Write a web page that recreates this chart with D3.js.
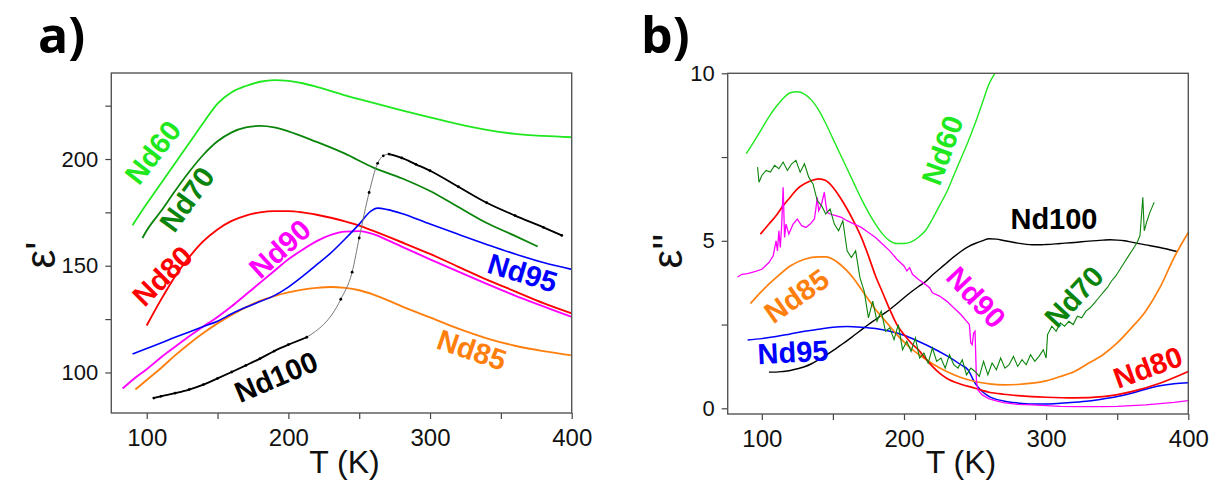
<!DOCTYPE html>
<html><head><meta charset="utf-8">
<script src="https://cdn.jsdelivr.net/npm/d3@7"></script>
<style>
html,body{margin:0;padding:0;background:#fff;}
svg{display:block;}
</style></head>
<body>
<svg id="chart" width="1216" height="482"></svg>
<script>
// ---------- Panel a: eps' ----------
const a60_T = [90,100,110,120,130,140,150,160,170,180,190,200,210,220,240,260,280,300,320,340,360,380,400];
const a60_E = [169,179,188.5,198,207.5,217,226,231.3,234.2,236.2,237,236.6,235.5,233.8,229.8,226.3,222.8,219.5,216.4,213.7,211.8,210.8,210.2];
const a70_T = [97,100,110,120,130,140,150,160,170,180,190,200,220,240,260,280,300,320,340,360,376];
const a70_E = [163,166.5,175.5,185,194,202,208.3,212.5,214.8,215.5,214.8,213,208,202.5,196,191,185,177.5,170,164,159];
const a80_T = [100,110,120,130,140,150,160,170,180,190,200,210,220,230,240,250,260,280,300,320,340,360,380,400];
const a80_E = [122,134,145,154,161.5,167,171,173.5,175,175.6,175.6,175,173.9,172.5,170.8,168.8,166.3,161,155.5,149.5,143.5,138,132.5,127.7];
const a85_T = [92,100,110,120,130,140,150,160,170,180,190,200,210,220,230,240,250,260,280,300,320,340,360,380,400];
const a85_E = [92,96.5,102,108,113.5,118.5,123,127,130.5,133.5,135.8,137.5,138.8,139.6,140,139.6,138.5,136.5,131,125.8,120.5,116,112.5,110,108];
const a90_T = [83,90,100,110,120,130,140,150,160,170,180,190,200,210,220,230,240,250,260,270,280,300,320,340,360,380,400];
const a90_E = [92.5,96.5,101.5,107,112,117,121.5,126,131,136.5,142,147.5,153,157.5,161.5,164.5,166,166.2,164.8,162,159,153,147.2,141.5,136,131,126];
const a95_T = [90,100,110,120,130,140,150,160,170,180,190,200,210,220,230,240,250,258,263,270,280,300,320,340,360,380,400];
const a95_E = [108.6,111.2,113.8,116.5,119,121.5,124,127.5,130.5,133.2,136,140,145,150.5,156,162.5,169.5,175.5,177,176.3,174.5,169.5,164.7,160,155.5,151.5,148.3];
const a100_T = [105,110,120,130,140,150,160,170,180,190,200,213,237,245,250,257,263,267,271,280,290,300,320,340,360,380,393];
const a100_E = [88,88.8,90.3,92,94.3,97.2,100.2,103.3,106.5,110,113,116.5,134.3,147,163,184.3,198,201.5,202.3,200.5,197.5,194.5,187,179.5,173.5,168,164.2];

// ---------- Panel b: eps'' ----------
const b60_T = [89,95,100,105,110,115,120,125,130,135,140,145,150,155,160,165,170,175,180,185,190,195,200,205,210,215,220,225,230,235,240,245,250,255,260,264];
const b60_E = [7.6,8.0,8.35,8.7,9.0,9.25,9.42,9.45,9.38,9.2,8.9,8.5,8.05,7.6,7.15,6.7,6.25,5.85,5.5,5.2,5.0,4.92,4.92,4.97,5.1,5.3,5.65,6.05,6.45,6.95,7.45,7.95,8.5,9.1,9.7,10.0];
const b70_T = [97,98,100,103,106,109,112,115,118,121,124,127,130,133,136,139,142,145,148,151,154,157,160,163,166,169,172,175,178,181,184,187,190,193,196,199,202,205,208,211,214,217,220,223,226,229,232,235,238,241,244,247,250,253,256,259,262,265,268,271,274,277,280,283,286,289,292,295,298,300,301,304,307,310,313,316,319,322,325,328,331,334,337,340,343,346,349,352,355,358,361,364,366,368,369,371,373,375,376];
const b70_E = [7.2,6.75,6.95,7.1,7.05,7.25,7.15,7.35,7.1,7.3,7.4,7.05,7.3,6.9,6.7,6.2,6.05,5.8,5.95,5.5,5.3,5.6,4.7,4.5,4.7,3.9,3.5,2.7,3.2,2.6,2.9,2.3,2.4,2.05,2.5,1.75,2.0,1.7,2.1,1.5,1.65,1.35,1.8,1.4,1.5,1.2,1.6,1.3,1.2,1.45,1.0,1.2,1.1,0.95,1.4,1.0,1.35,1.15,1.5,1.2,1.3,1.55,1.25,1.45,1.3,1.6,1.4,1.55,1.75,1.5,2.2,2.45,2.3,2.55,2.45,2.6,2.5,2.75,2.7,2.9,3.0,3.15,3.3,3.45,3.6,3.8,3.95,4.15,4.35,4.55,4.75,4.95,5.15,6.3,5.3,5.6,5.85,6.05,6.15];
const b80_T = [99,105,110,115,120,125,130,135,140,145,150,155,160,165,170,175,180,185,190,195,200,205,210,215,220,225,230,240,250,260,270,280,290,300,320,340,360,380,400];
const b80_E = [5.2,5.5,5.75,6.05,6.3,6.55,6.7,6.8,6.85,6.8,6.6,6.3,5.95,5.55,5.1,4.55,3.95,3.45,2.95,2.5,2.2,1.95,1.75,1.5,1.25,1.05,0.9,0.72,0.6,0.48,0.42,0.38,0.35,0.33,0.31,0.35,0.5,0.75,1.1];
const b85_T = [92,100,110,120,130,140,145,150,155,160,165,170,175,180,185,190,195,200,205,210,220,230,240,250,260,270,280,290,300,310,320,330,340,350,360,370,380,390,400];
const b85_E = [3.13,3.5,3.9,4.25,4.45,4.52,4.52,4.45,4.3,4.1,3.85,3.55,3.25,2.95,2.7,2.45,2.2,1.98,1.78,1.62,1.33,1.1,0.92,0.8,0.73,0.7,0.71,0.75,0.82,0.95,1.1,1.35,1.6,1.95,2.4,2.9,3.6,4.5,5.25];
const b90_T = [83,86,90,95,100,105,108,110,111,112,113,114,115,116,117,119,122,125,128,131,134,137,138,139,140,142,144,145,146,148,152,156,160,165,170,175,180,185,190,195,200,202,204,206,210,215,218,220,225,230,235,240,244,246,247,248,249,250,251,252,255,260,265,270,280,290,300,310,320,330,340,350,360,370,380,390,400];
const b90_E = [3.92,4.0,4.02,4.08,4.15,4.35,4.55,5.0,4.7,5.3,4.8,5.5,6.6,5.1,5.5,5.2,5.5,5.65,5.45,5.4,5.5,5.65,5.95,6.3,5.9,6.1,6.45,6.1,5.85,5.8,5.75,5.7,5.6,5.5,5.4,5.25,5.1,4.9,4.7,4.45,4.25,4.1,4.2,4.0,3.85,3.7,3.6,3.45,3.35,3.2,3.0,2.8,2.6,2.5,1.95,1.9,2.25,2.3,0.8,0.55,0.4,0.28,0.22,0.17,0.12,0.1,0.08,0.06,0.05,0.05,0.05,0.06,0.08,0.1,0.14,0.18,0.23];
const b95_T = [90,100,110,120,130,140,150,160,170,180,190,200,210,220,230,240,245,250,255,260,270,280,290,300,310,320,330,340,350,360,370,380,390,400];
const b95_E = [2.04,2.08,2.14,2.22,2.3,2.36,2.42,2.44,2.42,2.38,2.3,2.18,2.0,1.8,1.57,1.3,1.15,0.75,0.5,0.35,0.22,0.16,0.13,0.13,0.15,0.18,0.22,0.28,0.35,0.45,0.57,0.67,0.73,0.76];
const b100_T = [105,110,115,120,125,130,135,140,145,150,155,160,165,170,175,180,185,190,195,200,205,210,215,220,225,230,235,240,245,250,255,260,265,270,275,280,285,290,295,300,310,320,330,340,345,350,355,360,370,380,392];
const b100_E = [1.08,1.08,1.1,1.13,1.18,1.24,1.33,1.45,1.58,1.72,1.87,2.02,2.18,2.34,2.5,2.65,2.8,2.95,3.12,3.3,3.47,3.63,3.78,3.98,4.16,4.34,4.52,4.68,4.82,4.92,5.0,5.06,5.05,5.01,4.97,4.93,4.9,4.88,4.88,4.89,4.92,4.95,4.99,5.02,5.03,5.02,5.0,4.96,4.88,4.8,4.68];

// ticks
const xMajor = [100,200,300,400], xMinor = [150,250,350];
const yMajorA = [100,150,200], yMinorA = [125,175,225];
const yMajorB = [0,5,10], yMinorB = [2.5,7.5];

const names = ["Nd60","Nd70","Nd80","Nd85","Nd90","Nd95","Nd100"];
const colors = {Nd60:"#1fe81f",Nd70:"#0b840b",Nd80:"#ff0000",Nd85:"#ff7f0e",Nd90:"#ff00ff",Nd95:"#0000ff",Nd100:"#000000"};

const svg = d3.select("#chart");
const FONT = "'Liberation Sans', Arial, sans-serif";

function panel(opts){
  const g = svg.append("g");
  const x = d3.scaleLinear().domain(opts.xd).range(opts.xr);
  const y = d3.scaleLinear().domain(opts.yd).range(opts.yr);
  const ax = (gen, vals, fmt, t) => {
    const a = g.append("g").attr("transform", t).call(gen.tickValues(vals).tickSize(6).tickSizeOuter(0).tickFormat(fmt));
    a.select(".domain").remove();
    a.selectAll("line").attr("stroke","#444").attr("stroke-width",1.2);
    a.selectAll("text").attr("font-family",FONT).attr("fill","#111");
    return a;
  };
  const bx = ax(d3.axisBottom(x), xMajor, d3.format("d"), `translate(0,${opts.yr[0]})`);
  bx.selectAll("text").attr("font-size",24).attr("dy","1.0em");
  ax(d3.axisBottom(x), xMinor, () => "", `translate(0,${opts.yr[0]})`);
  const ly = ax(d3.axisLeft(y), opts.yMaj, d3.format("d"), `translate(${opts.xr[0]},0)`);
  ly.selectAll("text").attr("font-size",22).attr("x",-13);
  ax(d3.axisLeft(y), opts.yMin, () => "", `translate(${opts.xr[0]},0)`);

  const cid = "clip"+opts.id;
  svg.append("clipPath").attr("id",cid).append("rect")
     .attr("x",opts.xr[0]).attr("y",opts.yr[1]).attr("width",opts.xr[1]-opts.xr[0]).attr("height",opts.yr[0]-opts.yr[1]);
  const plot = g.append("g").attr("clip-path",`url(#${cid})`);

  opts.series.forEach(s => {
    const data = d3.zip(s.T, s.E);
    const line = d3.line().x(d=>x(d[0])).y(d=>y(d[1])).curve(s.smooth ? d3.curveMonotoneX : d3.curveLinear);
    if (s.name === "Nd100" && opts.id === "a") {
      plot.append("path").attr("d",line(data)).attr("fill","none").attr("stroke","#777").attr("stroke-width",1);
      const l2 = d3.line().defined(d => d[0] <= 213 || d[0] >= 271).x(d=>x(d[0])).y(d=>y(d[1])).curve(d3.curveMonotoneX);
      plot.append("path").attr("d",l2(data)).attr("fill","none").attr("stroke","#000").attr("stroke-width",1.8);
      plot.selectAll(null).data(data).join("circle").attr("cx",d=>x(d[0])).attr("cy",d=>y(d[1])).attr("r",1.4).attr("fill","#000");
    } else {
      plot.append("path").attr("d",line(data)).attr("fill","none").attr("stroke",colors[s.name]).attr("stroke-width",s.w);
    }
  });

  g.append("rect").attr("x",opts.xr[0]).attr("y",opts.yr[1]).attr("width",opts.xr[1]-opts.xr[0]).attr("height",opts.yr[0]-opts.yr[1])
    .attr("fill","none").attr("stroke","#555").attr("stroke-width",1.4);

  opts.labels.forEach(l => {
    g.append("text").attr("transform",`translate(${x(l.T)},${y(l.E)}) rotate(${l.rot})`)
      .attr("text-anchor","middle").attr("dominant-baseline","central")
      .attr("font-family",FONT).attr("font-weight","bold").attr("font-size",29)
      .attr("fill",colors[l.name]).text(l.name);
  });

  g.append("text").attr("x",(opts.xr[0]+opts.xr[1])/2+3).attr("y",473).attr("text-anchor","middle")
    .attr("font-family",FONT).attr("font-size",32).attr("fill","#111").text("T (K)");
  g.append("text").attr("transform",`translate(${opts.ytx},${opts.yty}) rotate(-90)`).attr("text-anchor","middle")
    .attr("font-family",FONT).attr("font-size",42).attr("fill","#111").text(opts.ytitle);
  g.append("text").attr("x",opts.px).attr("y",53).attr("font-family","'Open Sans', 'DejaVu Sans', sans-serif")
    .attr("font-weight","bold").attr("font-size",50).attr("fill","#000").text(opts.letter);
}

panel({
  id:"a", xd:[75,400], xr:[111.3,571.7], yd:[81,240.3], yr:[413,73],
  yMaj:yMajorA, yMin:yMinorA, ytitle:"ε'", ytx:55, yty:255, letter:"a)", px:38,
  series:[
    {name:"Nd60",T:a60_T,E:a60_E,w:1.8,smooth:true},
    {name:"Nd70",T:a70_T,E:a70_E,w:1.8,smooth:true},
    {name:"Nd80",T:a80_T,E:a80_E,w:1.9,smooth:true},
    {name:"Nd85",T:a85_T,E:a85_E,w:1.9,smooth:true},
    {name:"Nd90",T:a90_T,E:a90_E,w:1.9,smooth:true},
    {name:"Nd95",T:a95_T,E:a95_E,w:1.6,smooth:true},
    {name:"Nd100",T:a100_T,E:a100_E,w:1.8,smooth:true}
  ],
  labels:[
    {name:"Nd60",T:104.4,E:203.1,rot:-52},
    {name:"Nd70",T:128.4,E:181.1,rot:-54},
    {name:"Nd80",T:111.2,E:145.2,rot:-45},
    {name:"Nd90",T:194.1,E:157.9,rot:-42},
    {name:"Nd95",T:365.3,E:146.6,rot:17},
    {name:"Nd85",T:329.4,E:110.5,rot:19},
    {name:"Nd100",T:191.3,E:97.9,rot:-23}
  ]
});

panel({
  id:"b", xd:[76,400], xr:[727.7,1188.3], yd:[-0.17,10], yr:[414,73.3],
  yMaj:yMajorB, yMin:yMinorB, ytitle:"ε''", ytx:682, yty:251, letter:"b)", px:641,
  series:[
    {name:"Nd60",T:b60_T,E:b60_E,w:1.4,smooth:true},
    {name:"Nd100",T:b100_T,E:b100_E,w:1.4,smooth:true},
    {name:"Nd95",T:b95_T,E:b95_E,w:1.5,smooth:true},
    {name:"Nd85",T:b85_T,E:b85_E,w:1.7,smooth:true},
    {name:"Nd80",T:b80_T,E:b80_E,w:1.7,smooth:true},
    {name:"Nd90",T:b90_T,E:b90_E,w:1.3,smooth:false},
    {name:"Nd70",T:b70_T,E:b70_E,w:1.1,smooth:false}
  ],
  labels:[
    {name:"Nd60",T:227.1,E:7.70,rot:-70},
    {name:"Nd100",T:305.5,E:5.65,rot:0},
    {name:"Nd85",T:124.5,E:3.35,rot:-35},
    {name:"Nd95",T:121.9,E:1.67,rot:-3},
    {name:"Nd90",T:250.7,E:3.31,rot:47},
    {name:"Nd70",T:319.6,E:3.33,rot:-47},
    {name:"Nd80",T:371.6,E:1.22,rot:-20}
  ]
});
</script>
</body></html>
